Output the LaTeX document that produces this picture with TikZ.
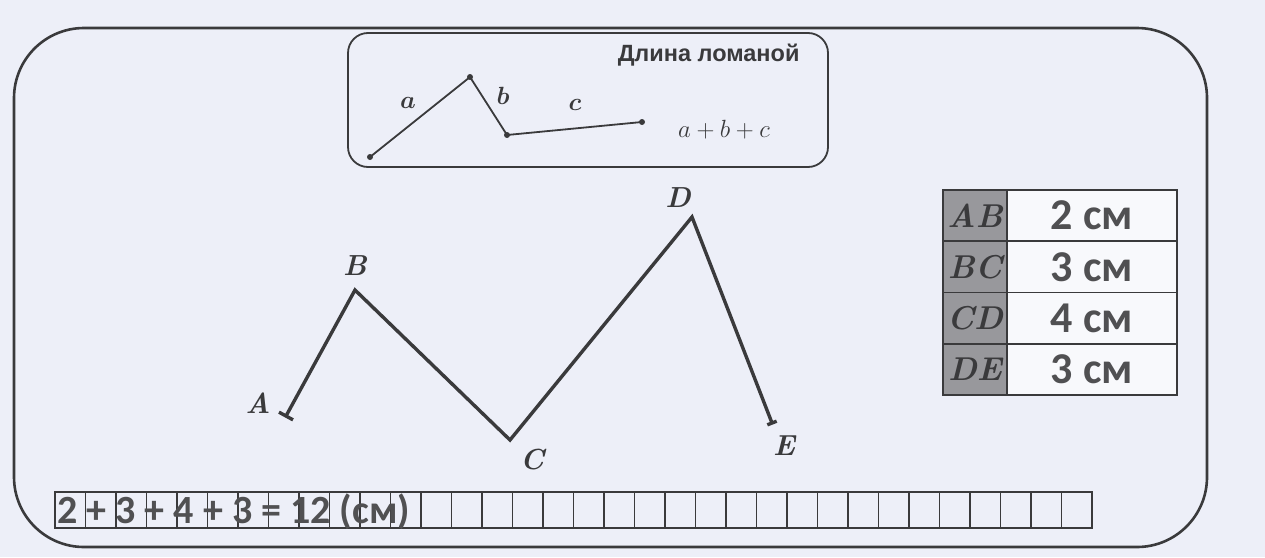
\documentclass[tikz,border=0pt]{standalone}
\usepackage{fontspec}
\usepackage{amsmath}
\newfontfamily\calibfont{Carlito}
\newfontfamily\arialfont{Liberation Sans}
\usetikzlibrary{positioning,calc}
\definecolor{paper}{RGB}{237,239,248}
\definecolor{ink}{RGB}{58,58,60}
\definecolor{softink}{RGB}{80,80,82}
\definecolor{shade}{RGB}{152,152,156}
\tikzset{
  frame/.style={draw=ink, line width=2.6pt, rounded corners=70pt},
  inbox/.style={draw=ink, line width=1.8pt, rounded corners=20pt},
  thinline/.style={draw=ink, line width=1.8pt},
  thickline/.style={draw=ink, line width=3.4pt, line join=miter},
  dot/.style={circle, fill=ink, inner sep=0pt, minimum size=6pt},
  small/.style={font=\fontsize{25}{25}\selectfont\boldmath, text=ink},
  ptlabel/.style={font=\fontsize{29}{29}\selectfont\bfseries\itshape, text=ink, inner sep=0pt},
  namecell/.style={draw=ink, line width=1.8pt, fill=shade, minimum width=64pt, minimum height=51.25pt,
    inner sep=0pt, outer sep=0pt, font=\fontsize{33}{33}\selectfont\bfseries\itshape, text=ink},
  valcell/.style={draw=ink, line width=1.8pt, fill=white!60!paper, minimum width=170pt, minimum height=51.25pt,
    inner sep=0pt, outer sep=0pt, font=\calibfont\bfseries\fontsize{44}{44}\selectfont, text=softink},
  gridcell/.style={draw=ink, line width=1.4pt, minimum width=30.5pt, minimum height=36pt, inner sep=0pt, outer sep=0pt},
}
\begin{document}
\begin{tikzpicture}[x=1pt,y=-1pt]
\fill[paper] (0,0) rectangle (1265,557);
\useasboundingbox (0,0) rectangle (1265,557);

% frames
\draw[frame] (14,28) rectangle (1207,547);
\draw[inbox] (348,33) rectangle (828,167);
\node[anchor=east, font=\arialfont\bfseries\fontsize{23.5}{23.5}\selectfont, text=ink] (title) at (803,55) {Длина ломаной};

% small broken line
\node[dot] (p1) at (370,157) {};
\node[dot] (p2) at (470,77) {};
\node[dot] (p3) at (507,135) {};
\node[dot] (p4) at (642,122) {};
\draw[thinline] (p1.center) -- (p2.center) -- (p3.center) -- (p4.center);
\node[small] (la) at (408,103) {$a$};
\node[small] (lb) at (503,96) {$b$};
\node[small] (lc) at (575,105) {$c$};
\node[small, font=\fontsize{24}{24}\selectfont] (sumabc) at (724,130) {$a+b+c$};

% big broken line
\coordinate (A) at (286,416);
\coordinate (B) at (355,290);
\coordinate (C) at (510,440);
\coordinate (D) at (692,217);
\coordinate (E) at (772,423);
\draw[thickline] (A) -- (B) -- (C) -- (D) -- (E);
\draw[thickline] ($(A)!8pt!90:(B)$) -- ($(A)!8pt!-90:(B)$);
\draw[thickline] ($(E)!5pt!90:(D)$) -- ($(E)!5pt!-90:(D)$);
\node[ptlabel] (lA) at (258,403) {A};
\node[ptlabel, above=14pt of B] (lB) {B};
\node[ptlabel] (lC) at (532,460) {C};
\node[ptlabel] (lD) at (678,198) {D};
\node[ptlabel] (lE) at (784,446) {E};

% table
\node[namecell] (ab) at (975,215.6) {AB};
\node[valcell, right=0pt of ab] (abv) {2 см};%
\node[namecell, below=0pt of ab] (bc) {BC};
\node[valcell, right=0pt of bc] (bcv) {3 см};%
\node[namecell, below=0pt of bc] (cd) {CD};
\node[valcell, right=0pt of cd] (cdv) {4 см};%
\node[namecell, below=0pt of cd] (de) {DE};
\node[valcell, right=0pt of de] (dev) {3 см};%

% strip of cells
\foreach \i in {0,...,33}
  \node[gridcell] (g\i) at ({70.25+30.5*\i},510) {};
\node[anchor=west, inner sep=0pt, font=\calibfont\bfseries\fontsize{40}{40}\selectfont, text=softink] (sum) at (57,512) {2 + 3 + 4 + 3 = 12 (см)};
\end{tikzpicture}
\end{document}
